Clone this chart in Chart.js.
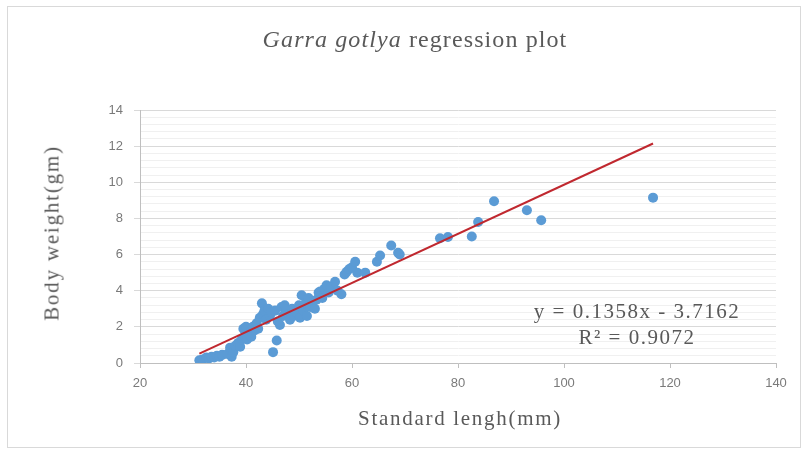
<!DOCTYPE html>
<html>
<head>
<meta charset="utf-8">
<script src="https://cdn.jsdelivr.net/npm/chart.js@4.4.1/dist/chart.umd.min.js"></script>
<style>
  html, body { margin: 0; padding: 0; background: #fff; }
  #wrap { position: relative; width: 809px; height: 455px; overflow: hidden; }
  #frame { position: absolute; left: 7px; top: 6px; width: 794px; height: 442px; border: 1px solid #d9d9d9; box-sizing: border-box; }
  #chart { position: absolute; left: 0; top: 0; }
  .txt { position: absolute; font-family: "Liberation Serif", "DejaVu Serif", serif; color: #595959; white-space: nowrap; }
  #title { left: 0; width: 830px; top: 27px; text-align: center; font-size: 24px; line-height: 24px; letter-spacing: 1.1px; }
  #xtitle { left: 0; width: 920px; top: 408px; text-align: center; font-size: 21px; line-height: 21px; letter-spacing: 1.7px; }
  #ytitle { left: 52px; top: 233px; font-size: 21px; line-height: 21px; letter-spacing: 1.8px;
            transform: translate(-50%, -50%) rotate(-90deg); }
  .eq { left: 437px; width: 400px; text-align: center; font-size: 21px; line-height: 21px; letter-spacing: 1.5px; }
  #eq1 { top: 301px; }
  #eq2 { top: 327px; }
</style>
</head>
<body>
<div id="wrap">
  <div id="frame"></div>
  <canvas id="chart" width="809" height="455"></canvas>
  <div id="title" class="txt"><i>Garra gotlya</i> regression plot</div>
  <div id="xtitle" class="txt">Standard lengh(mm)</div>
  <div id="ytitle" class="txt">Body weight(gm)</div>
  <div id="eq1" class="txt eq"></div>
  <div id="eq2" class="txt eq"></div>
</div>
<script>
// standard length (mm) and body weight (g) of each fish
const lengthMm = [
  31.2, 31.8, 32.5, 33.0, 33.5, 34.0, 34.5, 35.0, 35.5, 36.5,
  37.0, 37.3, 37.6, 38.0, 38.5, 38.9, 39.2, 39.5, 39.8, 40.0,
  40.2, 40.6, 41.0, 41.3, 41.6, 42.0, 42.3, 42.6, 43.0, 43.2,
  43.5, 43.8, 44.2, 44.5, 44.8, 45.1, 45.5, 45.8, 46.0, 46.4,
  46.7, 47.0, 47.3, 47.6, 48.0, 48.3, 48.7, 49.0, 49.5, 50.0,
  50.2, 50.5, 50.8, 51.2, 51.5, 51.8, 52.1, 52.5, 53.0, 53.3,
  53.7, 54.0, 54.4, 54.8, 55.2, 55.6, 56.0, 56.8, 57.3, 58.0,
  58.6, 59.0, 59.5, 60.0, 60.6, 61.0, 62.5, 64.7, 65.3, 67.4,
  68.7, 69.0, 76.6, 78.1, 82.6, 83.8, 86.8, 93.0, 95.7, 116.8
];
const weightGm = [
  0.15, 0.2, 0.3, 0.25, 0.35, 0.3, 0.4, 0.35, 0.45, 0.5,
  0.85, 0.35, 0.6, 0.95, 1.1, 0.9, 1.3, 1.9, 1.5, 2.0,
  1.3, 1.6, 1.45, 2.0, 1.8, 2.2, 1.9, 2.5, 3.3, 2.7,
  2.9, 2.4, 3.0, 2.6, 2.8, 0.6, 2.9, 1.25, 2.3, 2.1,
  3.1, 2.6, 3.2, 2.9, 2.7, 2.4, 3.0, 2.6, 2.8, 3.2,
  2.5, 3.75, 2.9, 3.3, 2.6, 3.6, 3.1, 3.4, 3.0, 3.5,
  3.9, 3.95, 3.6, 4.1, 4.3, 3.9, 4.2, 4.5, 4.0, 3.8,
  4.9, 5.05, 5.2, 5.3, 5.6, 5.0, 5.0, 5.6, 5.95, 6.5,
  6.1, 6.0, 6.9, 6.97, 7.0, 7.8, 8.95, 8.45, 7.9, 9.15
];

// linear fit reported for the sample
const slope = 0.1358;
const intercept = -3.7162;
const rSquared = 0.9072;

// axis ranges
const xRange = [20, 140];
const xStep = 20;
const yRange = [0, 14];
const yMajorStep = 2;
const yMinorStep = 0.4;

const points = lengthMm.map((x, i) => ({ x: x, y: weightGm[i] }));
const xLo = Math.min(...lengthMm);
const xHi = Math.max(...lengthMm);
const fitLine = [xLo, xHi].map(x => ({ x: x, y: slope * x + intercept }));

document.getElementById('eq1').textContent =
  'y = ' + slope.toFixed(4) + 'x - ' + Math.abs(intercept).toFixed(4);
document.getElementById('eq2').textContent = 'R\u00b2 = ' + rSquared.toFixed(4);

const isMajor = v => Math.abs(v / yMajorStep - Math.round(v / yMajorStep)) < 1e-6;
const tickFont = { family: "'Liberation Sans', Arial, sans-serif", size: 13 };

new Chart(document.getElementById('chart'), {
  type: 'scatter',
  data: {
    datasets: [
      {
        type: 'line',
        label: 'Linear fit',
        data: fitLine,
        borderColor: '#c0282f',
        borderWidth: 2,
        pointRadius: 0,
        fill: false,
        order: 0
      },
      {
        label: 'Body weight',
        data: points,
        backgroundColor: '#5b9bd5',
        borderWidth: 0,
        pointRadius: 5,
        order: 1
      }
    ]
  },
  options: {
    responsive: false,
    animation: false,
    layout: { padding: { left: 30, top: 110, right: 33, bottom: 0 } },
    plugins: {
      legend: { display: false },
      tooltip: { enabled: false }
    },
    scales: {
      x: {
        type: 'linear',
        min: xRange[0],
        max: xRange[1],
        afterFit: s => { s.height = 92; },
        ticks: { stepSize: xStep, color: '#7a7a7a', font: tickFont, padding: 8 },
        grid: { drawOnChartArea: false, drawTicks: true, tickLength: 5, tickColor: '#bfbfbf' },
        border: { color: '#bfbfbf', width: 1 }
      },
      y: {
        type: 'linear',
        min: yRange[0],
        max: yRange[1],
        afterFit: s => { s.width = 110; },
        ticks: {
          stepSize: yMinorStep,
          autoSkip: false,
          color: '#7a7a7a',
          font: tickFont,
          padding: 11,
          callback: v => isMajor(v) ? Math.round(v) : ''
        },
        grid: {
          color: ctx => isMajor(ctx.tick.value) ? '#d9d9d9' : '#f0f0f0',
          tickColor: ctx => isMajor(ctx.tick.value) ? '#d9d9d9' : 'rgba(0,0,0,0)',
          lineWidth: 1,
          tickLength: 6
        },
        border: { color: '#bfbfbf', width: 1 }
      }
    }
  }
});
</script>
</body>
</html>
